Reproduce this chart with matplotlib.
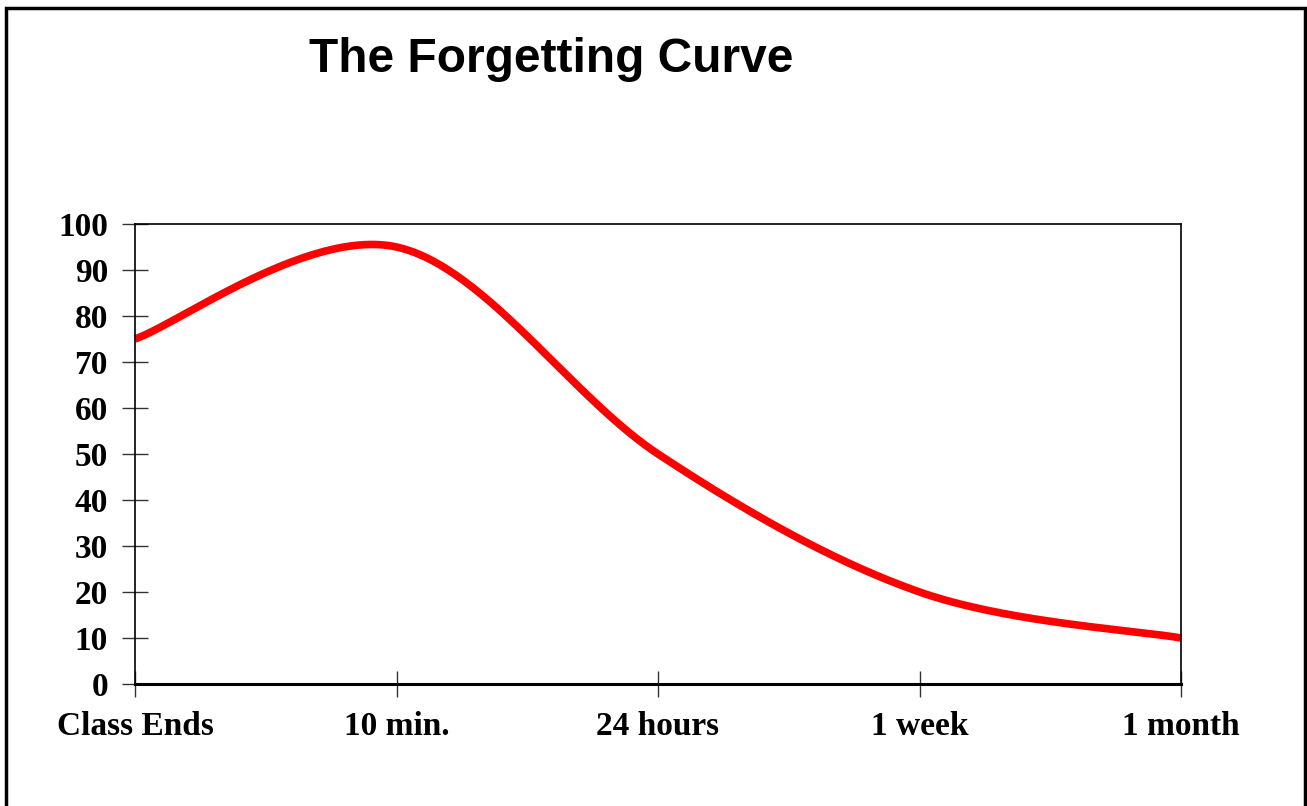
import numpy as np
import matplotlib.pyplot as plt
from matplotlib.patches import Rectangle

# datele graficului
categorii = ['Class Ends', '10 min.', '24 hours', '1 week', '1 month']
retinere = [75, 95, 50, 20, 10]
y_ticks = list(range(0, 101, 10))


def netezire(xs, ys, n=60):
    # curba neteda ca in Excel (Bezier prin puncte, tip Catmull-Rom)
    px = [xs[0]] + list(xs) + [xs[-1]]
    py = [ys[0]] + list(ys) + [ys[-1]]
    out_x, out_y = [], []
    t = np.linspace(0, 1, n)
    for i in range(1, len(px) - 2):
        x0, x1, x2, x3 = px[i - 1], px[i], px[i + 1], px[i + 2]
        y0, y1, y2, y3 = py[i - 1], py[i], py[i + 1], py[i + 2]
        c1x, c1y = x1 + (x2 - x0) / 6, y1 + (y2 - y0) / 6
        c2x, c2y = x2 - (x3 - x1) / 6, y2 - (y3 - y1) / 6
        bx = (1 - t) ** 3 * x1 + 3 * (1 - t) ** 2 * t * c1x + 3 * (1 - t) * t ** 2 * c2x + t ** 3 * x2
        by = (1 - t) ** 3 * y1 + 3 * (1 - t) ** 2 * t * c1y + 3 * (1 - t) * t ** 2 * c2y + t ** 3 * y2
        out_x.extend(bx)
        out_y.extend(by)
    return np.array(out_x), np.array(out_y)


fig = plt.figure(figsize=(13.07, 8.06), dpi=100)
W, H = 1307, 806
ax = fig.add_axes([135 / W, 1 - 684 / H, (1181 - 135) / W, (684 - 224) / H])

x = np.arange(len(categorii))
sx, sy = netezire(x, retinere)
ax.plot(sx, sy, color='#ff0000', linewidth=5.5, solid_capstyle='butt', clip_on=False)

ax.set_xlim(0, len(categorii) - 1)
ax.set_ylim(0, 100)
ax.set_xticks(x)
ax.set_xticklabels(categorii)
ax.set_yticks(y_ticks)

for sp in ['left', 'top', 'right']:
    ax.spines[sp].set_linewidth(1.2)
ax.spines['bottom'].set_linewidth(2.2)
ax.tick_params(direction='inout', length=19, width=1.0, color='#333333')
ax.tick_params(axis='x', pad=10)
ax.tick_params(axis='y', pad=10)
for lab in ax.get_xticklabels() + ax.get_yticklabels():
    lab.set_fontfamily('Liberation Serif')
    lab.set_fontweight('bold')
    lab.set_fontsize(24)

fig.text(551 / W, 1 - 60 / H, 'The Forgetting Curve', ha='center', va='center',
         fontfamily='Liberation Sans', fontweight='bold', fontsize=34.5)

# chenarul figurii
fig.patches.append(Rectangle((6 / W, -0.1), (1305 - 6) / W, 1.1 - 8 / H,
                             transform=fig.transFigure, fill=False,
                             edgecolor='black', linewidth=2.5))

fig.savefig('out.png', dpi=100)
